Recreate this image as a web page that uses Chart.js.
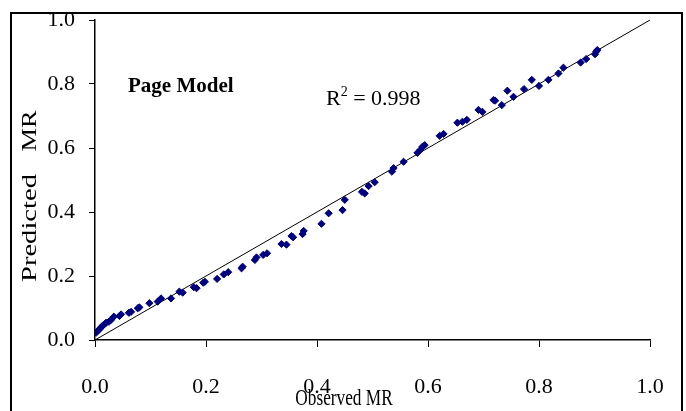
<!DOCTYPE html>
<html>
<head>
<meta charset="utf-8">
<script src="https://cdn.jsdelivr.net/npm/chart.js@4.4.0/dist/chart.umd.min.js"></script>
<style>
  html, body { margin: 0; padding: 0; background: #fff; }
  #wrap { width: 686px; height: 411px; position: relative; }
</style>
</head>
<body>
<div id="wrap"><canvas id="chart" width="686" height="411"></canvas></div>
<script>
// Observed vs predicted moisture ratio (Page model)
const observed = [
  0.002, 0.005, 0.008, 0.011, 0.014, 0.017, 0.020, 0.025, 0.029, 0.034,
  0.044, 0.047, 0.061, 0.065, 0.077, 0.080, 0.098, 0.113, 0.119, 0.137,
  0.152, 0.158, 0.178, 0.183, 0.195, 0.198, 0.220, 0.232, 0.240, 0.264,
  0.266, 0.288, 0.291, 0.303, 0.310, 0.336, 0.345, 0.354, 0.357, 0.374,
  0.376, 0.408, 0.421, 0.446, 0.450, 0.481, 0.486, 0.493, 0.504, 0.535,
  0.538, 0.556, 0.581, 0.586, 0.590, 0.594, 0.621, 0.628, 0.653, 0.662,
  0.670, 0.691, 0.698, 0.718, 0.721, 0.733, 0.743, 0.754, 0.773, 0.787,
  0.800, 0.817, 0.835, 0.844, 0.875, 0.885, 0.901, 0.903, 0.905
];
const predicted = [
  0.023, 0.029, 0.033, 0.040, 0.045, 0.049, 0.054, 0.057, 0.063, 0.073,
  0.075, 0.080, 0.085, 0.088, 0.099, 0.102, 0.115, 0.120, 0.130, 0.130,
  0.151, 0.148, 0.165, 0.162, 0.179, 0.182, 0.191, 0.205, 0.212, 0.224,
  0.229, 0.250, 0.258, 0.266, 0.271, 0.300, 0.298, 0.325, 0.321, 0.331,
  0.341, 0.363, 0.396, 0.406, 0.438, 0.463, 0.458, 0.481, 0.493, 0.526,
  0.537, 0.557, 0.585, 0.594, 0.604, 0.609, 0.638, 0.644, 0.679, 0.682,
  0.688, 0.719, 0.713, 0.750, 0.748, 0.734, 0.779, 0.760, 0.784, 0.813,
  0.794, 0.813, 0.833, 0.851, 0.867, 0.878, 0.893, 0.901, 0.906
];
// 1:1 reference line
const lineX = [0, 1];
const lineY = [0, 1];
const tickValues = [0, 0.2, 0.4, 0.6, 0.8, 1.0];

const serif = '"Liberation Serif", "Times New Roman", serif';

const points = observed.map((x, i) => ({ x: x, y: predicted[i] }));
const diag = lineX.map((x, i) => ({ x: x, y: lineY[i] }));

// Frame, axis titles and annotations
const decorations = {
  id: 'decorations',
  afterDraw(chart) {
    const c = chart.ctx;
    c.save();
    c.strokeStyle = '#000';
    c.lineWidth = 2;
    c.strokeRect(11, 13, 671, 410);

    c.fillStyle = '#000';
    c.textBaseline = 'middle';
    c.textAlign = 'center';

    // x title looks squeezed sideways in the original
    c.font = '24px ' + serif;
    c.save();
    c.translate(344, 399);
    c.scale(0.72, 1);
    c.fillText('Observed MR', 0, 0);
    c.restore();

    // y title, stretched along its length
    c.font = '22px ' + serif;
    c.save();
    c.translate(30, 228);
    c.rotate(-Math.PI / 2);
    c.scale(1.3, 1);
    c.fillText('Predicted', 0, 0);
    c.restore();
    c.save();
    c.translate(30, 131);
    c.rotate(-Math.PI / 2);
    c.scale(1.2, 1);
    c.fillText('MR', 0, 0);
    c.restore();

    c.textAlign = 'left';
    c.textBaseline = 'alphabetic';
    c.font = 'bold 21px ' + serif;
    c.fillText('Page Model', 128, 92);

    c.font = '22px ' + serif;
    c.fillText('R', 326, 105);
    let w = c.measureText('R').width;
    c.font = '14px ' + serif;
    c.fillText('2', 326 + w, 96);
    w += c.measureText('2').width;
    c.font = '22px ' + serif;
    c.fillText(' = 0.998', 326 + w, 105);
    c.restore();
  }
};

new Chart(document.getElementById('chart'), {
  type: 'scatter',
  data: {
    datasets: [
      {
        label: 'Predicted',
        data: points,
        pointStyle: 'rectRot',
        pointRadius: 3.6,
        backgroundColor: '#000080',
        borderColor: '#000080',
        borderWidth: 1,
        order: 1
      },
      {
        type: 'line',
        label: '1:1',
        data: diag,
        borderColor: '#000',
        borderWidth: 1,
        pointRadius: 0,
        fill: false,
        order: 2
      }
    ]
  },
  options: {
    responsive: false,
    animation: false,
    layout: { padding: { top: 20, right: 36, left: 0, bottom: 0 } },
    plugins: { legend: { display: false }, tooltip: { enabled: false } },
    scales: {
      x: {
        type: 'linear',
        min: 0,
        max: 1,
        afterBuildTicks: axis => { axis.ticks = tickValues.map(v => ({ value: v })); },
        afterFit: axis => { axis.height = 71; axis.paddingLeft = 0; axis.paddingRight = 0; },
        grid: { drawOnChartArea: false, drawTicks: true, tickLength: 7, color: '#000', lineWidth: 1 },
        border: { display: true, color: '#000', width: 1.5 },
        ticks: {
          padding: 27,
          color: '#000',
          font: { family: serif, size: 22 },
          callback: v => v.toFixed(1)
        }
      },
      y: {
        type: 'linear',
        min: 0,
        max: 1,
        afterBuildTicks: axis => { axis.ticks = tickValues.map(v => ({ value: v })); },
        afterFit: axis => { axis.width = 95; axis.paddingTop = 0; axis.paddingBottom = 0; },
        grid: { drawOnChartArea: false, drawTicks: true, tickLength: 6, color: '#000', lineWidth: 1 },
        border: { display: true, color: '#000', width: 1.5 },
        ticks: {
          padding: 14,
          color: '#000',
          font: { family: serif, size: 22 },
          callback: v => v.toFixed(1)
        }
      }
    }
  },
  plugins: [decorations]
});
</script>
</body>
</html>
